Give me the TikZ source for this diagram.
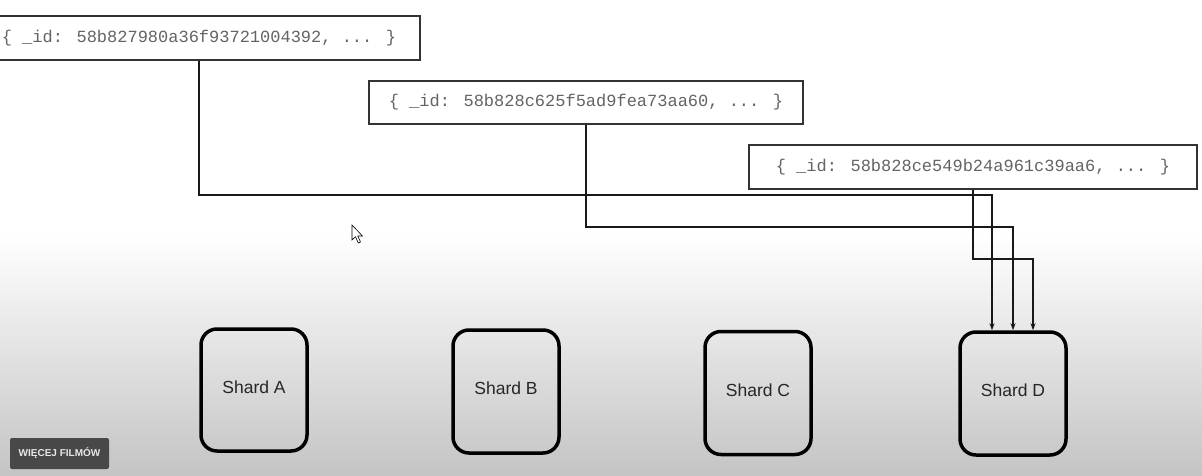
\documentclass[tikz,border=0pt]{standalone}
\usepackage{fontspec}
\setmainfont{Liberation Sans}
\newfontfamily\monof{Liberation Mono}
\usetikzlibrary{arrows.meta}
\definecolor{bgbottom}{RGB}{196,196,196}
\definecolor{btnfill}{RGB}{72,72,72}
\definecolor{btntext}{RGB}{232,232,232}
\definecolor{idtext}{RGB}{100,100,100}
\begin{document}
\begin{tikzpicture}[x=1pt,y=-1pt,
  idbox/.style={draw=black!80, line width=1.3pt, minimum height=44pt, inner sep=0pt,
    text=idtext, font=\monof\fontsize{17}{20}\selectfont},
  shard/.style={draw=black, line width=3.5pt, rounded corners=16pt, minimum width=106pt,
    minimum height=123pt, inner sep=0pt, text depth=6pt, font=\fontsize{17.5}{21}\selectfont, text=black!85},
  link/.style={draw=black!90, line width=1.1pt, -{Stealth[length=7pt,width=5pt]}},
  btn/.style={fill=btnfill, rounded corners=2pt, minimum width=99pt, minimum height=31pt,
    inner sep=0pt, text=btntext, font=\bfseries\fontsize{10}{12}\selectfont}]
\useasboundingbox (0,0) rectangle (1202,476);
\fill[white] (0,0) rectangle (1202,476);
\shade[top color=white, bottom color=bgbottom] (0,235) rectangle (1202,476);

% id boxes
\node[idbox, minimum width=442pt] (box1) at (199,38) {\{ \_id: 58b827980a36f93721004392, ... \}};
\node[idbox, minimum width=434pt, minimum height=43pt] (box2) at (586,102.5) {\{ \_id: 58b828c625f5ad9fea73aa60, ... \}};
\node[idbox, minimum width=448pt] (box3) at (973,167) {\{ \_id: 58b828ce549b24a961c39aa6, ... \}};

% shards
\node[shard, minimum height=122pt] (shardA) at (254,390) {Shard A};
\node[shard] (shardB) at (506,391.5) {Shard B};
\node[shard] (shardC) at (758,393) {Shard C};
\node[shard] (shardD) at (1013,393.5) {Shard D};

% routing levels
\coordinate (lv1) at (0,195);
\coordinate (lv2) at (0,227);
\coordinate (lv3) at (0,259);

\draw[link] (box1.south) -- (box1.south |- lv1) -| ([xshift=-21pt]shardD.north);
\draw[link] (box2.south) -- (box2.south |- lv2) -| (shardD.north);
\draw[link] (box3.south) -- (box3.south |- lv3) -| ([xshift=20pt]shardD.north);

% button
\node[btn] (more) at (59.5,453.5) {WIĘCEJ FILMÓW};

% mouse cursor
\draw[black, line width=0.6pt, fill=white, line join=miter]
  (352,225) -- (352,240) -- (355.5,236.8) -- (358.3,243) -- (360.5,242)
  -- (357.8,236) -- (362.5,236) -- cycle;
\end{tikzpicture}
\end{document}
